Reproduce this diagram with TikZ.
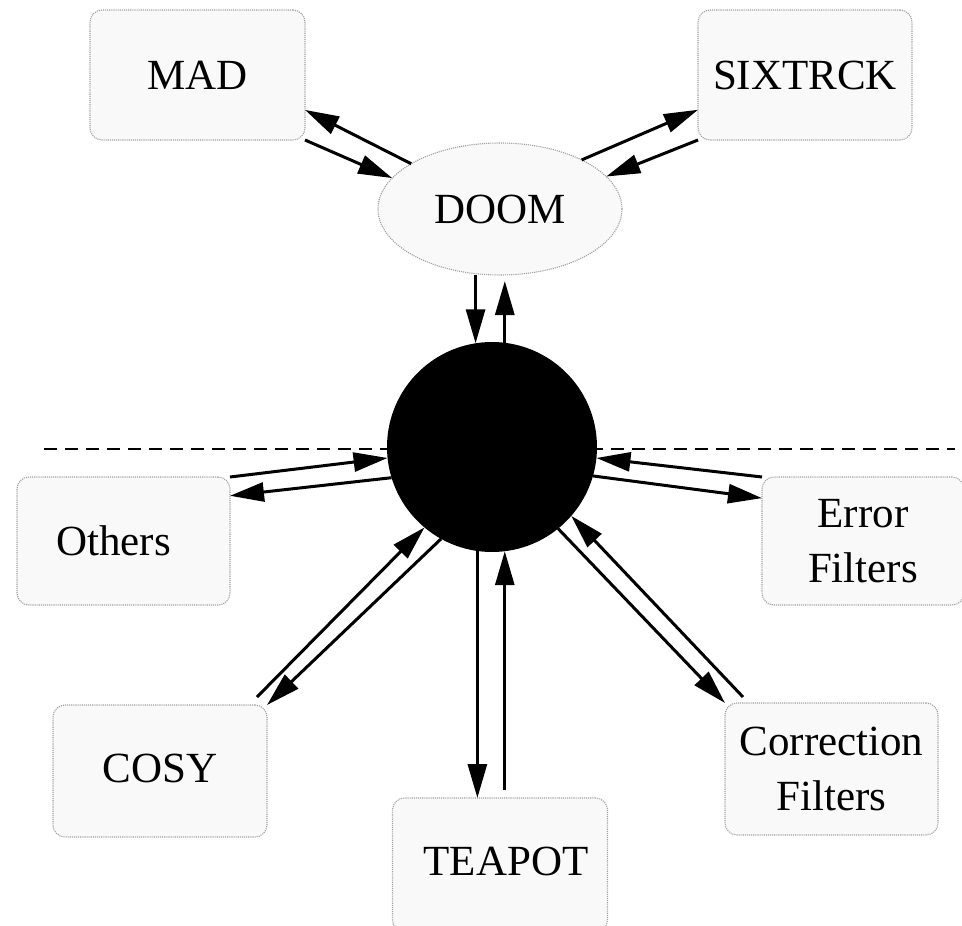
\documentclass[tikz,border=0pt]{standalone}
\usepackage{fontspec}
\setmainfont{Liberation Serif}
\usetikzlibrary{arrows.meta,shapes.geometric,calc}
\begin{document}
\begin{tikzpicture}[x=1pt,y=-1pt,
  lbl/.style={font=\fontsize{43}{55}\selectfont, align=center},
  boxnode/.style={lbl, draw=gray!75, densely dotted, line width=1.1pt, fill=gray!5,
    rounded corners=12pt, minimum width=215pt, minimum height=130pt, inner sep=0pt, outer sep=0pt},
  flow/.style={line width=3pt, -{Triangle[length=34pt,width=19pt]}},
  sepline/.style={line width=2.4pt, dash pattern=on 13pt off 8pt}]
\useasboundingbox (0,0) rectangle (962,926);
\draw[sepline] (44,449) -- (955,449);
\node[boxnode] (mad) at (197.5,75) {MAD};
\node[boxnode, minimum width=214pt] (six) at (805,75) {SIXTRCK};
\node[lbl, ellipse, draw=gray!75, densely dotted, line width=1.1pt, fill=gray!5,
  minimum width=244pt, minimum height=132pt, inner sep=0pt, outer sep=0pt] (doom) at (500,209) {DOOM};
\node[circle, fill=black, minimum size=210pt, inner sep=0pt, outer sep=0pt] (core) at (492,447) {};
\node[boxnode, minimum width=213pt, minimum height=128pt] (others) at (123.5,541) {Others\hspace*{20pt}};
\node[boxnode, minimum width=202pt, minimum height=128pt] (err) at (863,541) {Error\\Filters};
\node[boxnode, minimum width=214pt, minimum height=132pt] (cosy) at (160,771) {\raisebox{6pt}{COSY}};
\node[boxnode, minimum width=213pt, minimum height=132pt] (corr) at (831.5,769) {Correction\\Filters};
\node[boxnode, minimum width=215pt, minimum height=134pt] (teapot) at (500,865) {\raisebox{7pt}{TEAPOT}\hspace*{-12pt}};
\coordinate (c11) at (257,697);
\coordinate (c14) at (743,697);
\draw[flow] (doom.153) -- (mad.-18);
\draw[flow] (mad.south east) -- (doom.164);
\draw[flow] (doom.31) -- (six.198);
\draw[flow] (six.south west) -- (doom.17);
\draw[flow] (doom.south -| core.99) -- (core.99);
\draw[flow, shorten >=6pt] (core.83) -- (doom.south -| core.83);
\draw[flow] (others.north east) -- (core.186);
\draw[flow] (core.197) -- (others.23);
\draw[flow] (err.north west) -- (core.-6);
\draw[flow] (core.-16) -- (err.157);
\draw[flow] (c11) -- (core.230);
\draw[flow] (core.241) -- (cosy.north east);
\draw[flow] (core.-51) -- (corr.north west);
\draw[flow] (c14) -- (core.-41);
\draw[flow] (core.262) -- (teapot.north -| core.262);
\draw[flow, shorten <=8pt] (teapot.north -| core.277) -- (core.277);
\end{tikzpicture}
\end{document}
